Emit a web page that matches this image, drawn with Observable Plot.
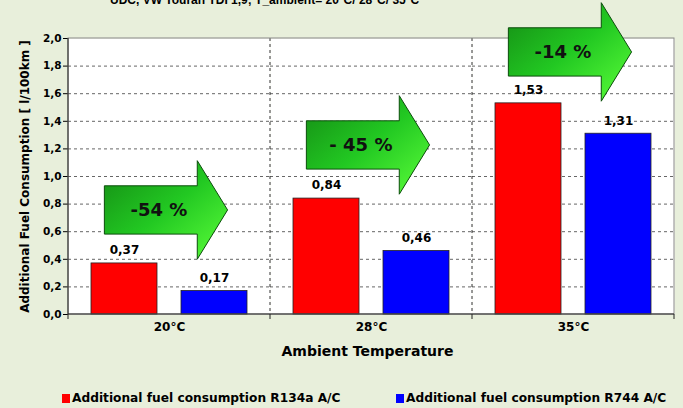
<!DOCTYPE html>
<html><head><meta charset="utf-8">
<script src="https://cdn.jsdelivr.net/npm/d3@7"></script>
<script src="https://cdn.jsdelivr.net/npm/@observablehq/plot@0.6"></script>
<style>
html,body{margin:0;padding:0;}
body{background:#e8efdb;width:683px;height:408px;overflow:hidden;position:relative;font-family:"DejaVu Sans",sans-serif;}
#title{position:absolute;top:-6px;left:110px;font-family:"Liberation Sans",Arial,sans-serif;font-weight:bold;font-size:12px;line-height:13px;white-space:nowrap;color:#000;}
#chart{position:absolute;top:0;left:0;}
.leg{position:absolute;top:391px;font-weight:bold;font-size:12.2px;line-height:14px;white-space:nowrap;color:#000;}
.sw{display:inline-block;width:8px;height:9px;margin-right:2px;vertical-align:-1px;}
</style>
</head><body>
<div id="title"></div>
<div id="chart"></div>
<div id="legend"></div>
<script>
// ---- data ----
const titleText = "UDC, VW Touran TDI 1,9; T_ambient= 20°C/ 28°C/ 35°C";
const temps = ["20°C", "28°C", "35°C"];
const systems = ["R134a", "R744"];
const r134a = [0.37, 0.84, 1.53];
const r744 = [0.17, 0.46, 1.31];
const yTicks = [0, 0.2, 0.4, 0.6, 0.8, 1.0, 1.2, 1.4, 1.6, 1.8, 2.0];
const arrowLabels = ["-54 %", "- 45 %", "-14 %"];
const arrowLevels = [0.754, 1.225, 1.899];
const legendLabels = ["Additional fuel consumption R134a A/C", "Additional fuel consumption R744 A/C"];
const colors = ["#ff0000", "#0000ff"];
const yLabel = "Additional Fuel Consumption [ l/100km ]";
const xLabel = "Ambient Temperature";

document.getElementById("title").textContent = titleText;

const data = temps.flatMap((t, i) => [
  {temp: t, sys: systems[0], v: r134a[i]},
  {temp: t, sys: systems[1], v: r744[i]}
]);
const fmt2 = d => d.toFixed(2).replace(".", ",");
const fmt1 = d => d.toFixed(1).replace(".", ",");
const font = "'DejaVu Sans', sans-serif";

const plot = Plot.plot({
  width: 683, height: 382,
  marginLeft: 67, marginRight: 8, marginTop: 38, marginBottom: 68,
  style: {background: "transparent", fontFamily: font, overflow: "visible", color: "#000"},
  fx: {domain: temps, padding: 0, label: null, axis: null},
  x: {domain: systems, paddingInner: 0.264, paddingOuter: 0.247, axis: null},
  y: {domain: [0, 2], axis: null},
  color: {domain: systems, range: colors},
  marks: [
    Plot.frame({fill: "white", stroke: "none"}),
    Plot.gridY(yTicks.slice(1, -1), {stroke: "#666", strokeOpacity: 1, strokeDasharray: "3,3", strokeWidth: 1}),
    Plot.barY(data, {fx: "temp", x: "sys", y: "v", fill: "sys", stroke: "#222", strokeWidth: 0.8}),
    Plot.text(data, {fx: "temp", x: "sys", y: "v", text: d => fmt2(d.v), dy: -13, fontWeight: "bold", fontSize: 12}),
    Plot.axisY(yTicks, {tickFormat: fmt1, fontWeight: "bold", fontSize: 10.5, tickSize: 5, tickPadding: 2, label: null}),
    Plot.axisFx({anchor: "bottom", fontWeight: "bold", fontSize: 12, tickSize: 0, tickPadding: 8, label: null}),
    Plot.text([{temp: temps[0]}], {fx: "temp", frameAnchor: "left", textAnchor: "middle", text: () => yLabel, rotate: -90, dx: -43, dy: 0, fontWeight: "bold", fontSize: 12}),
    Plot.text([{temp: temps[1]}], {fx: "temp", frameAnchor: "bottom", textAnchor: "middle", text: () => xLabel, dy: 41, dx: -4, fontWeight: "bold", fontSize: 14})
  ]
});
document.getElementById("chart").appendChild(plot);

// ---- decorations using the plot's own scales ----
const svg = d3.select(plot);
const fx = plot.scale("fx");
const y = plot.scale("y");
const bw = fx.bandwidth;
const x0 = fx.apply(temps[0]);
const x1 = fx.apply(temps[temps.length - 1]) + bw;
const yTop = y.apply(2), yBot = y.apply(0);

const defs = svg.append("defs");
const grad = defs.append("linearGradient").attr("id", "ag").attr("x1", "0").attr("y1", "0").attr("x2", "1").attr("y2", "1");
grad.append("stop").attr("offset", "0").attr("stop-color", "#148a14");
grad.append("stop").attr("offset", "0.5").attr("stop-color", "#22c822");
grad.append("stop").attr("offset", "1").attr("stop-color", "#5cff3a");

const deco = svg.append("g");
// separators between groups
temps.slice(1).forEach(t => {
  const xx = fx.apply(t);
  deco.append("line").attr("x1", xx).attr("x2", xx).attr("y1", yTop).attr("y2", yBot)
    .attr("stroke", "#333").attr("stroke-dasharray", "3,3");
});
// frame
deco.append("rect").attr("x", x0).attr("y", yTop).attr("width", x1 - x0).attr("height", yBot - yTop)
  .attr("fill", "none").attr("stroke", "#888");
deco.append("line").attr("x1", x0).attr("x2", x0).attr("y1", yTop).attr("y2", yBot).attr("stroke", "#222");
deco.append("line").attr("x1", x0).attr("x2", x1).attr("y1", yBot).attr("y2", yBot).attr("stroke", "#222");
// bottom ticks at group boundaries
temps.concat([null]).forEach(t => {
  const xx = t ? fx.apply(t) : x1;
  deco.append("line").attr("x1", xx).attr("x2", xx).attr("y1", yBot).attr("y2", yBot + 5).attr("stroke", "#222");
});
// arrows
const unit = yBot - y.apply(1);
temps.forEach((t, i) => {
  const gx = fx.apply(t);
  const cy = y.apply(arrowLevels[i]);
  const bh = 0.175 * unit, hh = 0.357 * unit;
  const a = gx + 0.18 * bw, b = gx + 0.64 * bw, c = gx + 0.79 * bw;
  const pts = [[a, cy - bh], [b, cy - bh], [b, cy - hh], [c, cy], [b, cy + hh], [b, cy + bh], [a, cy + bh]];
  deco.append("path").attr("d", "M" + pts.map(p => p.join(",")).join("L") + "Z")
    .attr("fill", "url(#ag)").attr("stroke", "#0b4d0b").attr("stroke-width", 1);
  deco.append("text").attr("x", gx + 0.45 * bw).attr("y", cy).attr("dy", "0.36em")
    .attr("text-anchor", "middle").attr("font-family", font).attr("font-weight", "bold")
    .attr("font-size", 18).attr("fill", "#111").text(arrowLabels[i]);
});

// legend
const leg = document.getElementById("legend");
const legX = [62, 396];
legendLabels.forEach((l, i) => {
  const d = document.createElement("div");
  d.className = "leg";
  d.style.left = legX[i] + "px";
  d.innerHTML = `<span class="sw" style="background:${colors[i]}"></span>`;
  d.appendChild(document.createTextNode(l));
  leg.appendChild(d);
});
</script>
</body></html>
